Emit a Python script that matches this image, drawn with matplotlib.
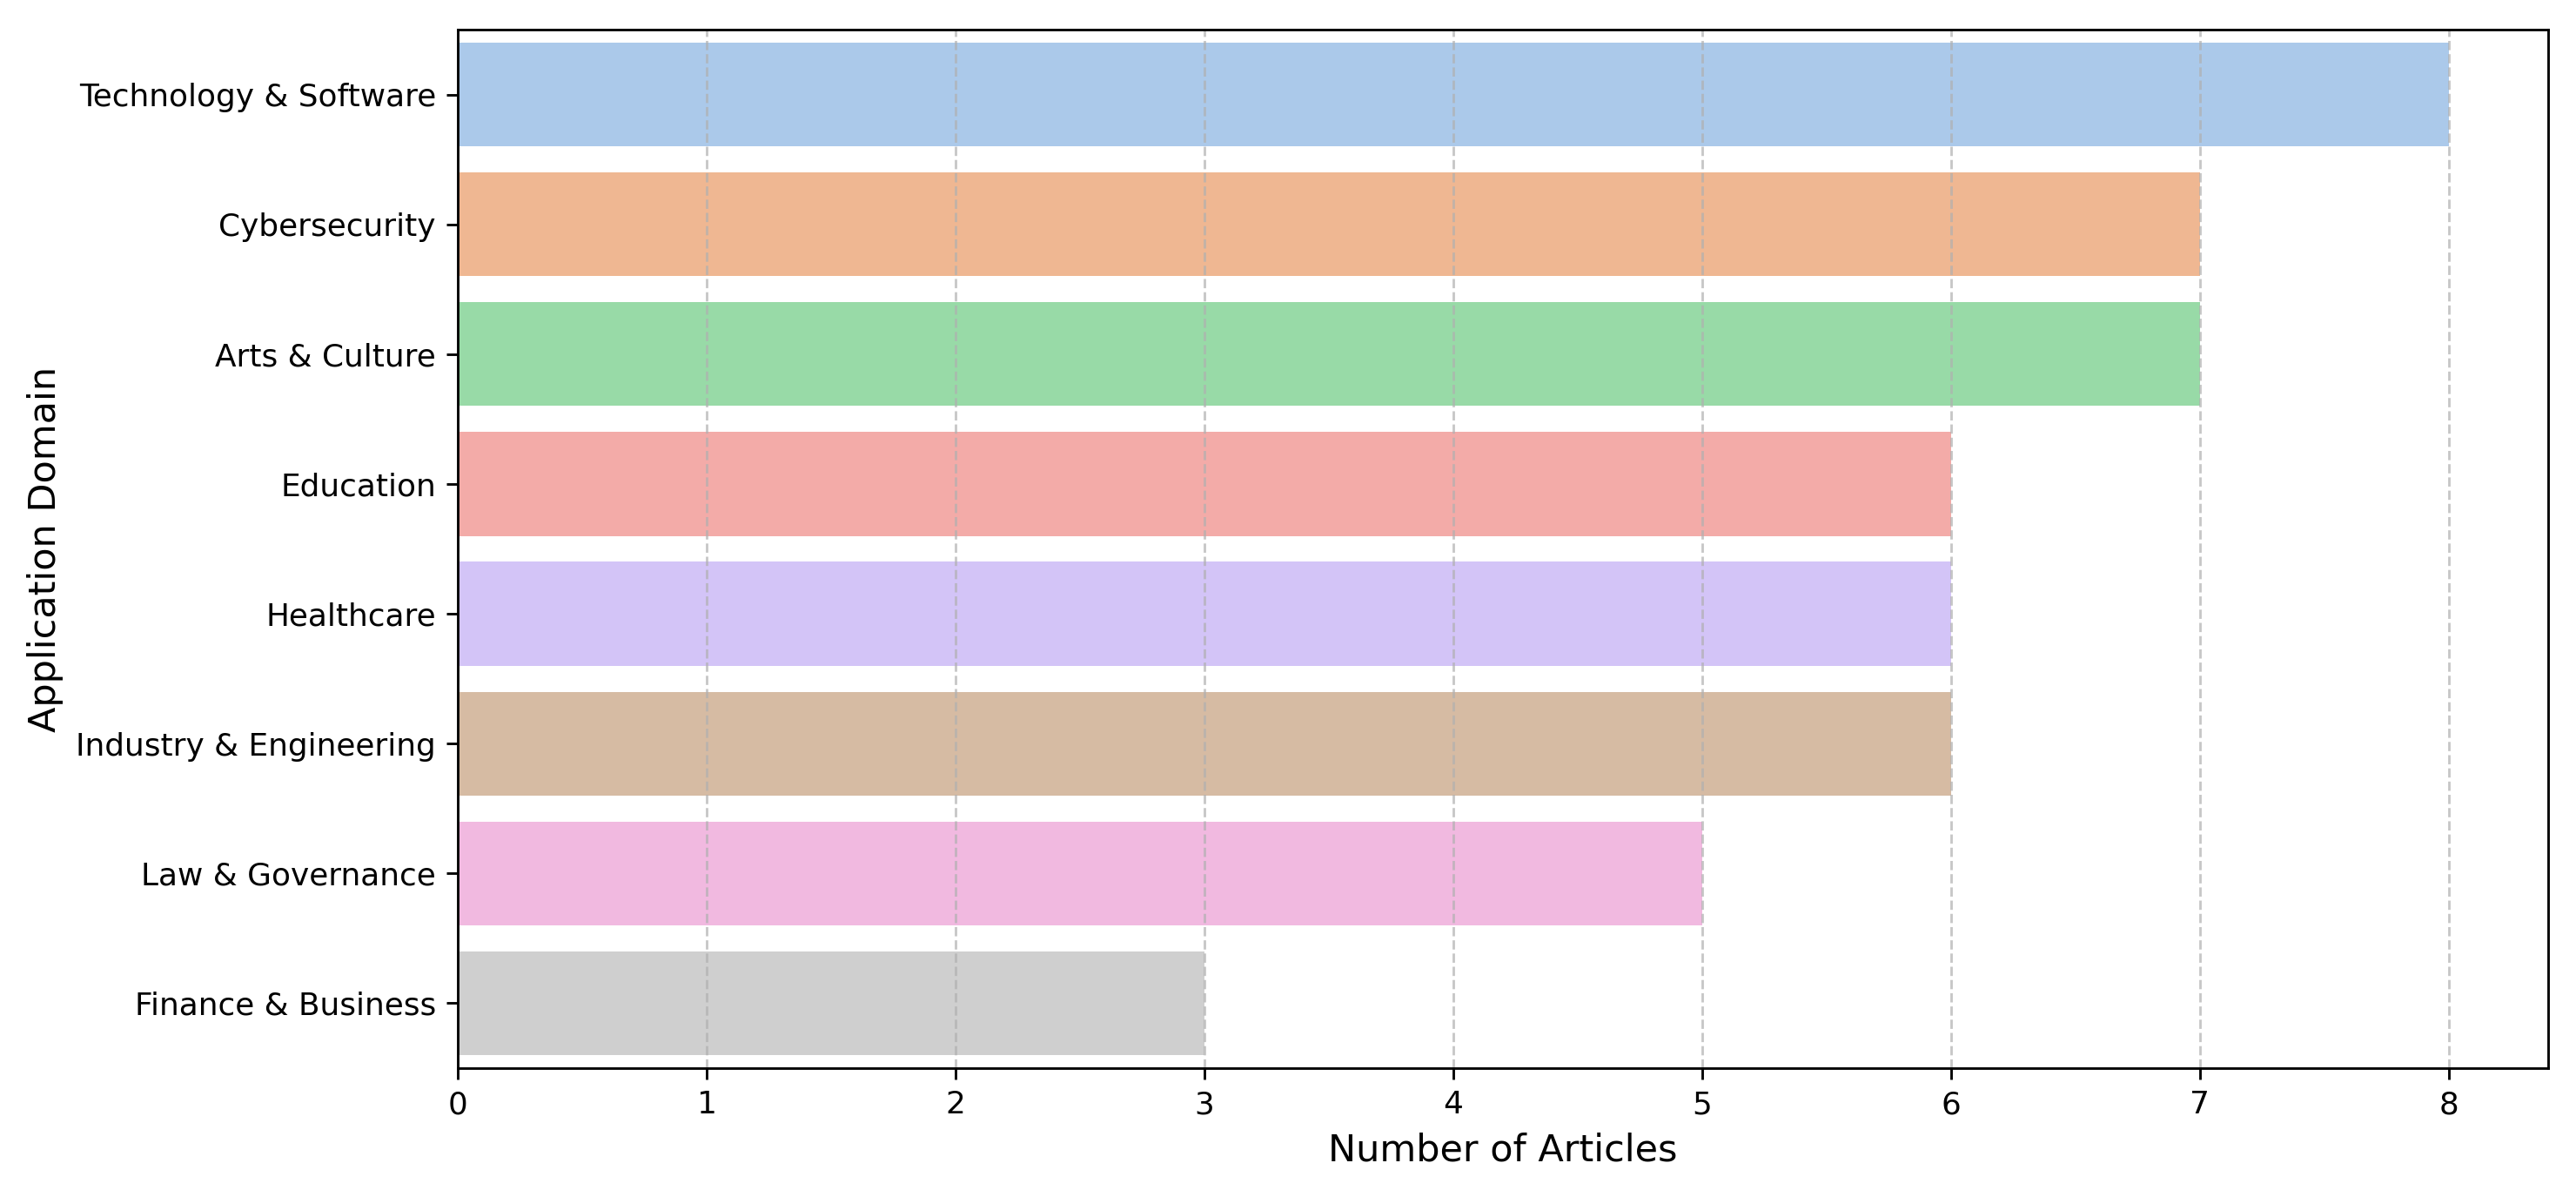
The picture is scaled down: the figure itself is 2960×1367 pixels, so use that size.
import colorsys
import matplotlib
matplotlib.use("Agg")
import matplotlib.pyplot as plt
from matplotlib.colors import to_rgb

# Data
domains = [
    "Technology & Software",
    "Cybersecurity",
    "Arts & Culture",
    "Education",
    "Healthcare",
    "Industry & Engineering",
    "Law & Governance",
    "Finance & Business",
]
counts = [8, 7, 7, 6, 6, 6, 5, 3]

# seaborn "pastel" palette, desaturated like barplot does (saturation=0.75)
pastel = ["#a1c9f4", "#ffb482", "#8de5a1", "#ff9f9b",
          "#d0bbff", "#debb9b", "#fab0e4", "#cfcfcf"]


def desaturate(c, prop=0.75):
    h, l, s = colorsys.rgb_to_hls(*to_rgb(c))
    return colorsys.hls_to_rgb(h, l, s * prop)


colors = [desaturate(c) for c in pastel]

DPI = 258
fig = plt.figure(figsize=(2960 / DPI, 1367 / DPI), dpi=DPI)
ax = fig.add_axes([0.1777, 0.1024, 0.8115, 0.8727])

ypos = list(range(len(domains)))
ax.barh(ypos, counts, height=0.8, color=colors)
ax.set_yticks(ypos)
ax.set_yticklabels(domains)
ax.set_ylim(len(domains) - 0.5, -0.5)
ax.set_xlim(0, max(counts) * 1.05)

ax.set_xlabel("Number of Articles", fontsize=12)
ax.set_ylabel("Application Domain", fontsize=12)
ax.grid(axis="x", linestyle="--", alpha=0.7)

fig.savefig("out.png", dpi=DPI)
